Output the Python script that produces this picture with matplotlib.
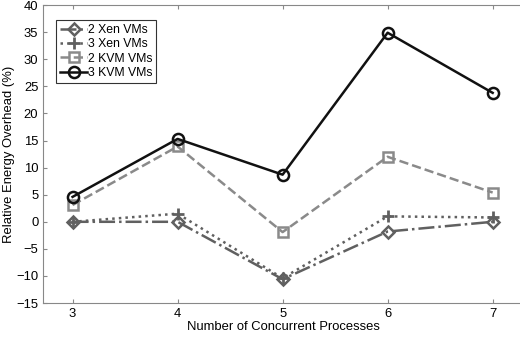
import matplotlib
matplotlib.use('Agg')
import matplotlib.pyplot as plt

plt.rcParams['font.family'] = ['Liberation Sans', 'DejaVu Sans']

processes = [3, 4, 5, 6, 7]
xen2 = [0.0, 0.0, -10.6, -1.8, 0.0]
xen3 = [0.0, 1.5, -10.4, 1.0, 0.8]
kvm2 = [3.1, 13.9, -1.9, 12.0, 5.4]
kvm3 = [4.6, 15.3, 8.7, 34.9, 23.8]

fig = plt.figure(figsize=(5.2, 3.39), dpi=100)
ax = fig.add_axes([0.083, 0.106, 0.925, 0.879])

ax.plot(processes, xen2, color='#606060', linestyle='-.', linewidth=1.8,
        marker='D', markersize=6, markerfacecolor='none', markeredgewidth=1.8,
        label='2 Xen VMs')
ax.plot(processes, xen3, color='#606060', linestyle=':', linewidth=1.8,
        marker='+', markersize=9, markeredgewidth=2, label='3 Xen VMs')
ax.plot(processes, kvm2, color='#8a8a8a', linestyle='--', linewidth=1.8,
        marker='s', markersize=7, markerfacecolor='none', markeredgewidth=1.8,
        label='2 KVM VMs')
ax.plot(processes, kvm3, color='#111111', linestyle='-', linewidth=1.8,
        marker='o', markersize=8, markerfacecolor='none', markeredgewidth=1.8,
        label='3 KVM VMs')

ax.set_xlim(2.72, 7.3)
ax.set_ylim(-15, 40)
ax.set_xticks(processes)
ax.set_yticks(range(-15, 45, 5))
ax.tick_params(labelsize=9.4, direction='in', length=3, color='#888888',
               top=True, right=True)
for s in ax.spines.values():
    s.set_color('#888888')

ax.set_xlabel('Number of Concurrent Processes', fontsize=9.4, labelpad=1)
ax.set_ylabel('Relative Energy Overhead (%)', fontsize=9.4, labelpad=1)

leg = ax.legend(loc='upper left', fontsize=8.8, handlelength=2.2,
                handletextpad=0.1, borderpad=0.3, labelspacing=0.2,
                fancybox=False, bbox_to_anchor=(0.015, 0.97))
leg.get_frame().set_edgecolor('black')
leg.get_frame().set_linewidth(0.8)

fig.savefig('out.png', dpi=100)
